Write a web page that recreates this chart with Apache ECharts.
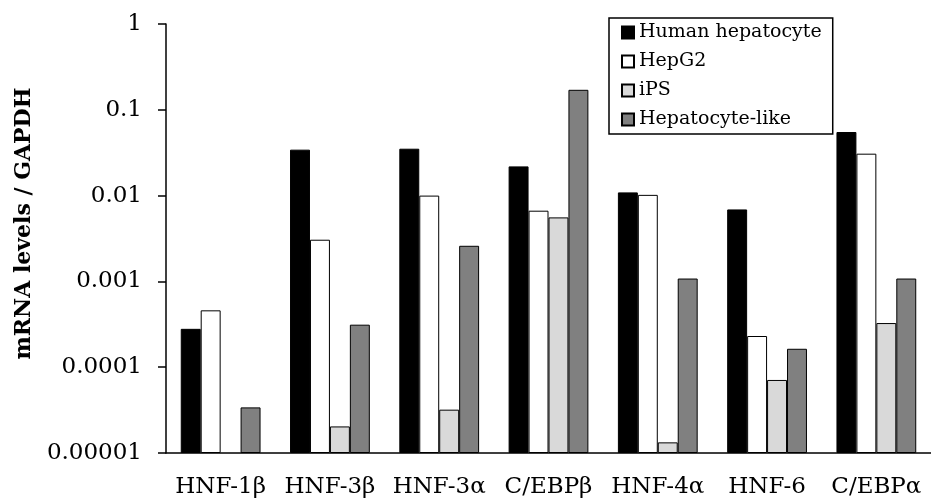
<!DOCTYPE html>
<html>
<head>
<meta charset="utf-8">
<script src="https://cdn.jsdelivr.net/npm/echarts@6/dist/echarts.min.js"></script>
<style>html,body{margin:0;padding:0;background:#fff;}#c{width:931px;height:501px;}</style>
</head>
<body>
<div id="c"></div>
<script>
var categories = ['HNF-1β', 'HNF-3β', 'HNF-3α', 'C/EBPβ', 'HNF-4α', 'HNF-6', 'C/EBPα'];
var seriesNames = ['Human hepatocyte', 'HepG2', 'iPS', 'Hepatocyte-like'];
var humanHepatocyte = [0.00028, 0.0343, 0.0352, 0.0219, 0.0109, 0.0069, 0.0551];
var hepG2 = [0.00046, 0.00306, 0.0100, 0.00667, 0.0102, 0.000231, 0.0308];
var iPS = [null, 0.0000204, 0.000032, 0.00557, 0.0000133, 0.000071, 0.000327];
var hepatocyteLike = [0.000034, 0.000313, 0.0026, 0.171, 0.00108, 0.000164, 0.00108];
var yTickLabels = ['0.00001', '0.0001', '0.001', '0.01', '0.1', '1'];

var values = [humanHepatocyte, hepG2, iPS, hepatocyteLike];
var colors = ['#000000', '#ffffff', '#d9d9d9', '#808080'];
var font = 'DejaVu Serif';

var chart = echarts.init(document.getElementById('c'));
chart.setOption({
  animation: false,
  backgroundColor: '#fff',
  grid: { left: 166, top: 24, width: 770, height: 429, containLabel: false },
  legend: {
    orient: 'vertical',
    left: 609, top: 18,
    borderColor: '#000', borderWidth: 1.5,
    padding: [5, 11, 5, 12],
    itemGap: 10, itemWidth: 12, itemHeight: 12,
    icon: 'rect',
    textStyle: { fontFamily: font, fontSize: 19, color: '#000' },
    data: seriesNames
  },
  xAxis: {
    type: 'category',
    data: categories,
    axisLine: { lineStyle: { color: '#000', width: 1.5 } },
    axisTick: { length: 7, lineStyle: { color: '#000', width: 1.5 } },
    axisLabel: { fontFamily: font, fontSize: 23, color: '#000', margin: 23, interval: 0 }
  },
  yAxis: {
    type: 'log',
    logBase: 10,
    min: 0.00001,
    max: 1,
    startValue: 0.00001,
    name: 'mRNA levels / GAPDH',
    nameLocation: 'middle',
    nameGap: 131,
    nameTextStyle: { fontFamily: font, fontSize: 22, fontWeight: 'bold', color: '#000', padding: [0, 0, 0, 30] },
    splitLine: { show: false },
    axisLine: { show: true, lineStyle: { color: '#000', width: 1.5 } },
    axisTick: { show: true, length: 8, lineStyle: { color: '#000', width: 1.5 } },
    axisLabel: {
      fontFamily: font, fontSize: 23, color: '#000', margin: 24,
      formatter: function (v) {
        var e = Math.round(Math.log(v) / Math.LN10);
        return yTickLabels[e + 5];
      }
    }
  },
  series: seriesNames.map(function (n, i) {
    return {
      name: n,
      type: 'bar',
      data: values[i],
      barGap: '0%',
      barCategoryGap: '27%',
      itemStyle: { color: colors[i], borderColor: '#000', borderWidth: 1 }
    };
  })
});
</script>
</body>
</html>
